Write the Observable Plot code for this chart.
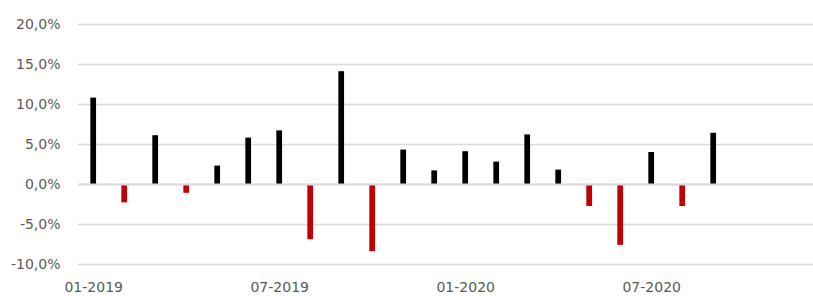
<!DOCTYPE html>
<html>
<head>
<meta charset="utf-8">
<script src="https://cdn.jsdelivr.net/npm/d3@7"></script>
<script src="https://cdn.jsdelivr.net/npm/@observablehq/plot@0.6"></script>
<style>
  html, body { margin: 0; padding: 0; background: #fff; }
  #chart { width: 813px; height: 296px; }
</style>
</head>
<body>
<div id="chart"></div>
<script>
const months = [
  "01-2019","02-2019","03-2019","04-2019","05-2019","06-2019","07-2019","08-2019","09-2019","10-2019","11-2019","12-2019",
  "01-2020","02-2020","03-2020","04-2020","05-2020","06-2020","07-2020","08-2020","09-2020","10-2020","11-2020","12-2020"
];
const values = [
  10.8, -2.3, 6.1, -1.1, 2.3, 5.8, 6.7, -6.9, 14.1, -8.4, 4.3, 1.7,
  4.1, 2.8, 6.2, 1.8, -2.75, -7.6, 4.0, -2.75, 6.4
];
const tickLabels = ["01-2019", "07-2019", "01-2020", "07-2020"];
const yTicks = [-10, -5, 0, 5, 10, 15, 20];

const data = values.map((v, i) => ({month: months[i], value: v}));
const fmt = v => d3.format(".1f")(v).replace(".", ",").replace("−", "-") + "%";

const chart = Plot.plot({
  width: 813,
  height: 296,
  marginLeft: 78,
  marginRight: 0,
  marginTop: 24,
  marginBottom: 32,
  style: {fontFamily: "DejaVu Sans", fontSize: "14px", color: "#595959", background: "#fff"},
  x: {type: "band", domain: months, range: [77.7, 77.7 + 31 * 24], paddingInner: 0.815, paddingOuter: 0.4075, round: false, label: null},
  y: {domain: [-10, 20], label: null},
  marks: [
    Plot.ruleY(yTicks, {stroke: "#d9d9d9", strokeWidth: 1.6}),
    Plot.barY(data, {x: "month", y: "value", fill: d => d.value < 0 ? "#c00000" : "#000000"}),
    Plot.ruleY([0], {stroke: "#d9d9d9", strokeWidth: 2}),
    Plot.axisY({ticks: yTicks, tickFormat: fmt, tickSize: 0, tickPadding: 18, fill: "#595959", fontSize: 14, label: null}),
    Plot.axisX({ticks: tickLabels, tickSize: 0, tickPadding: 18, fill: "#595959", fontSize: 14, label: null})
  ]
});
document.getElementById("chart").appendChild(chart);
</script>
</body>
</html>
